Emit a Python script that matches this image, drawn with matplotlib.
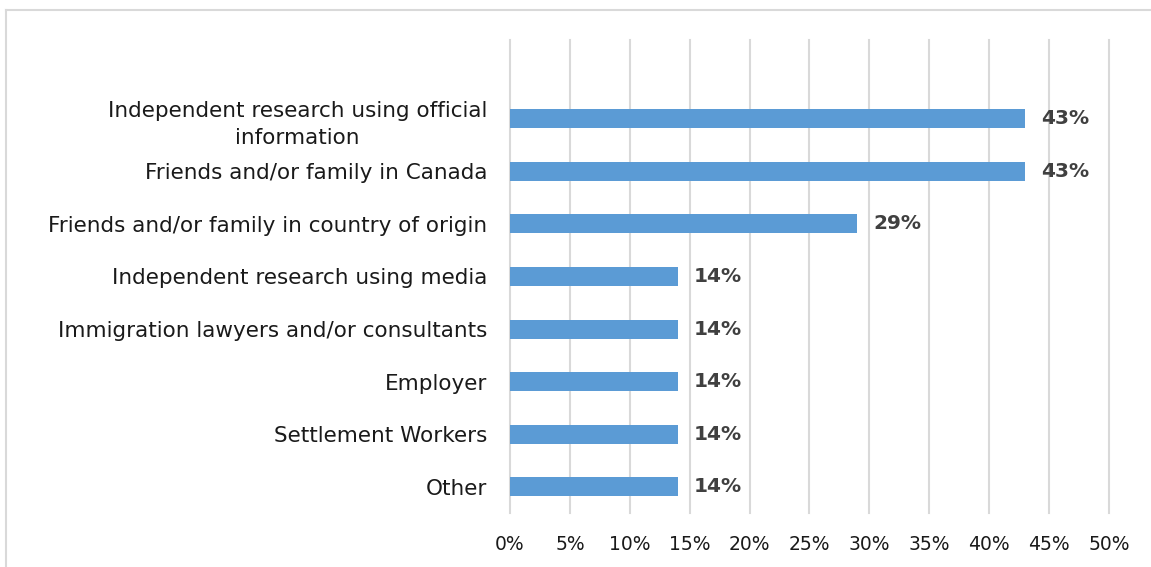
import matplotlib.pyplot as plt
from matplotlib.lines import Line2D

categories = [
    "Independent research using official\ninformation",
    "Friends and/or family in Canada",
    "Friends and/or family in country of origin",
    "Independent research using media",
    "Immigration lawyers and/or consultants",
    "Employer",
    "Settlement Workers",
    "Other",
]
values = [43, 43, 29, 14, 14, 14, 14, 14]
xticks = [0, 5, 10, 15, 20, 25, 30, 35, 40, 45, 50]

plt.rcParams['font.family'] = ['DejaVu Sans']

fig = plt.figure(figsize=(11.51, 5.67), dpi=100)
ax = fig.add_axes([0.4431, 0.0952, 0.5204, 0.8343])

# bars top-to-bottom in list order
ypos = list(range(len(categories) - 1, -1, -1))
ax.barh(ypos, values, height=0.36, color='#5b9bd5', zorder=3)

for y, v in zip(ypos, values):
    ax.text(v + 1.35, y, f"{v}%", va='center', ha='left', fontsize=14.5,
            fontweight='bold', color='#404040', zorder=4)

ax.set_xlim(0, 50)
ax.set_ylim(-0.5, 8.5)
ax.set_xticks(xticks)
ax.set_xticklabels([f"{t}%" for t in xticks], fontsize=13.5, color='#1a1a1a')
ax.set_yticks(ypos)
ax.set_yticklabels(categories, fontsize=15.5, color='#1a1a1a')
for lab in ax.get_yticklabels():
    lab.set_multialignment('center')
    lab.set_linespacing(1.45)

ax.tick_params(axis='both', length=0)
ax.tick_params(axis='x', pad=16)
ax.tick_params(axis='y', pad=16.5)
ax.grid(axis='x', color='#d9d9d9', linewidth=1.5, zorder=0)
for gl in ax.get_xgridlines():
    gl.set_clip_on(False)
for s in ax.spines.values():
    s.set_visible(False)

# outer chart border (top and left edges visible)
fig.add_artist(Line2D([0.0048, 1.0], [0.982, 0.982], color='#d9d9d9', linewidth=1.5,
                      transform=fig.transFigure))
fig.add_artist(Line2D([0.0048, 0.0048], [0.0, 0.982], color='#d9d9d9', linewidth=1.5,
                      transform=fig.transFigure))

fig.savefig('out.png', dpi=100)
